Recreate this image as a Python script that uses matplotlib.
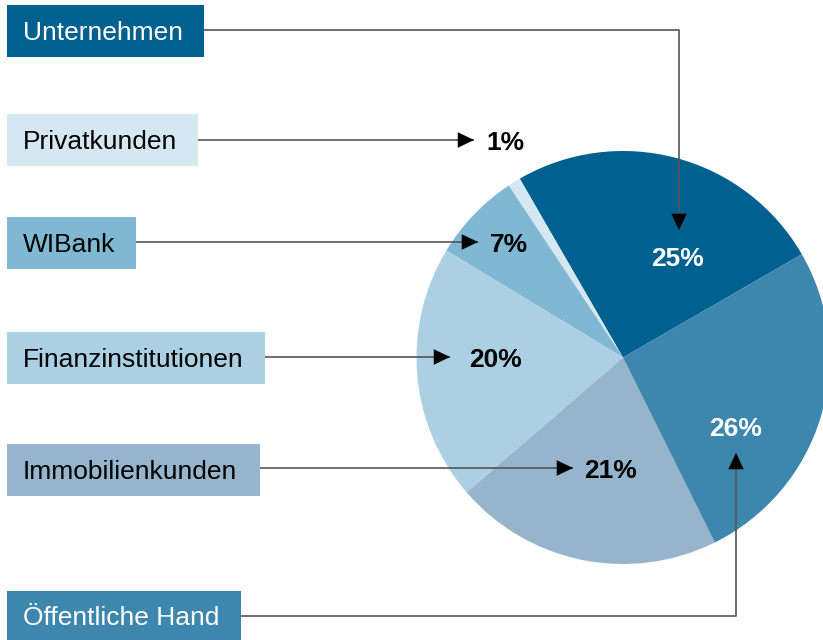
import matplotlib.pyplot as plt
from matplotlib.patches import Rectangle

plt.rcParams['font.family'] = ['Liberation Sans', 'DejaVu Sans']

# data (counterclockwise from 30 degrees)
segments = ['Unternehmen', 'Privatkunden', 'WIBank', 'Finanzinstitutionen', 'Immobilienkunden', 'Öffentliche Hand']
shares = [25, 1, 7, 20, 21, 26]
colors = ['#00608f', '#d5e8f1', '#80b8d4', '#abd0e3', '#96b5cc', '#3d87ae']
text_colors = ['white', 'black', 'black', 'black', 'black', 'white']
pct_colors = ['white', 'black', 'black', 'black', 'black', 'white']

W, H = 823, 640
fig = plt.figure(figsize=(W / 100, H / 100), dpi=100)
ax = fig.add_axes([0, 0, 1, 1])

def Y(y):
    return H - y

cx, cy, r = 623, Y(357.5), 206.5
ax.pie(shares, colors=colors, startangle=30, counterclock=True,
       center=(cx, cy), radius=r, wedgeprops=dict(linewidth=0))

# legend boxes: x0, y0, x1, y1 in pixels
boxes = [(7, 5, 204, 57), (7, 114, 198, 166), (7, 217, 136, 269),
         (7, 332, 265, 384), (7, 444, 260, 496), (7, 591, 241, 643)]
for (x0, y0, x1, y1), name, c, tc in zip(boxes, segments, colors, text_colors):
    ax.add_patch(Rectangle((x0, Y(y1)), x1 - x0, y1 - y0, color=c, lw=0))
    ty = (y0 + y1) / 2 + 2 if y1 < 640 else 618
    ax.text(23, Y(ty), name, color=tc, fontsize=19, ha='left', va='center')

# percent labels
pct_pos = [(678, 259), (505, 143), (509, 245), (496, 360), (611, 471), (736, 429)]
for (x, y), v, c in zip(pct_pos, shares, pct_colors):
    ax.text(x, Y(y), f'{v}%', color=c, fontsize=19, fontweight='bold',
            ha='center', va='center')

# connector lines, paths in pixels ending at the arrow tip
paths = [
    [(204, 30), (679, 30), (679, 230)],
    [(198, 140), (474, 140)],
    [(136, 242), (478, 242)],
    [(265, 357), (450, 357)],
    [(260, 468), (573, 468)],
    [(241, 616), (736, 616), (736, 453)],
]
line_col = '#555555'
for p in paths:
    xs = [q[0] for q in p]
    ys = [Y(q[1]) for q in p]
    ax.plot(xs, ys, color=line_col, lw=1.2, solid_capstyle='butt')
    (xa, ya), (xb, yb) = p[-2], p[-1]
    dx = (xb - xa) / max(abs(xb - xa), abs(yb - ya), 1)
    dy = (yb - ya) / max(abs(xb - xa), abs(yb - ya), 1)
    ax.annotate('', xy=(xb, Y(yb)), xytext=(xb - dx * 18, Y(yb - dy * 18)),
                arrowprops=dict(arrowstyle='-|>,head_length=1.15,head_width=0.55',
                                color='black', lw=0.1, shrinkA=0, shrinkB=0))

ax.set_xlim(0, W)
ax.set_ylim(0, H)
ax.set_aspect('auto')
ax.axis('off')
fig.savefig('out.png', dpi=100)
